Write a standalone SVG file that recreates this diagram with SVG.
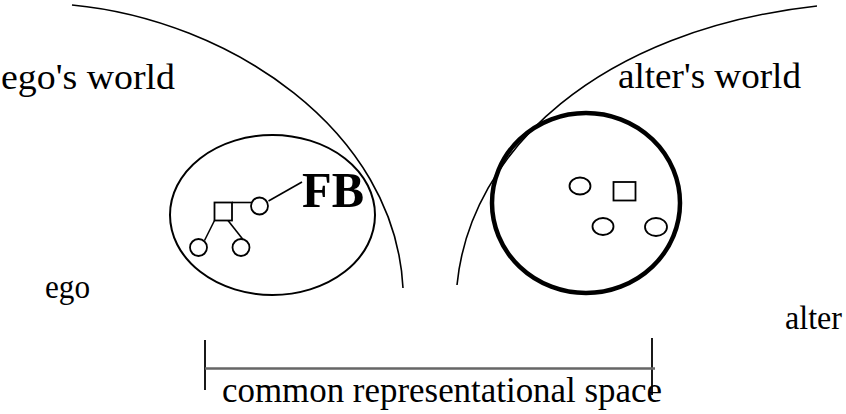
<svg xmlns="http://www.w3.org/2000/svg" width="846" height="414" viewBox="0 0 846 414">
<style>
.t{font-family:"Liberation Serif","Times New Roman",serif;font-size:36px;fill:#000}
.b{font-weight:bold;font-size:50px}
.ln{fill:none;stroke:#000;stroke-width:1.6}
.sm{fill:#fff;stroke:#000;stroke-width:1.8}
</style>
<rect width="846" height="414" fill="#fff"/>
<g id="worlds">
<path id="ego-world" class="ln" d="M72,5 C230,20 395,130 403,288"/>
<path id="alter-world" class="ln" d="M457,285 C470,150 600,30 817,6"/>
</g>
<g id="ego-node">
<ellipse cx="272.5" cy="215" rx="102.5" ry="80" fill="none" stroke="#000" stroke-width="2"/>
</g>
<g id="alter-node">
<ellipse cx="586" cy="203" rx="94" ry="90" fill="none" stroke="#000" stroke-width="4.5"/>
</g>
<g id="connectors">
<line class="ln" x1="232" y1="202.5" x2="251" y2="202.5"/>
<line class="ln" x1="268.5" y1="201" x2="302" y2="182"/>
<line class="ln" x1="214.5" y1="220.5" x2="204.5" y2="240.5"/>
<line class="ln" x1="228" y1="220.5" x2="243" y2="239.5"/>
</g>
<g id="ego-family">
<rect class="sm" x="214.5" y="202.5" width="17.5" height="18"/>
<circle class="sm" cx="259.5" cy="206" r="8.5"/>
<circle class="sm" cx="198.5" cy="247.5" r="8.5"/>
<circle class="sm" cx="241" cy="247.5" r="8.5"/>
</g>
<g id="alter-family">
<ellipse class="sm" cx="580" cy="186" rx="10.5" ry="8.5"/>
<rect class="sm" x="613.5" y="182" width="22" height="18.5"/>
<ellipse class="sm" cx="603" cy="226.5" rx="10.5" ry="8.5"/>
<ellipse class="sm" cx="656" cy="227" rx="11" ry="9"/>
</g>
<g id="fb">
<text class="t b" x="302" y="206.5" textLength="62" lengthAdjust="spacingAndGlyphs">FB</text>
</g>
<g id="labels">
<text class="t" x="1" y="89" textLength="174" lengthAdjust="spacingAndGlyphs">ego's world</text>
<text class="t" x="618" y="88" textLength="183" lengthAdjust="spacingAndGlyphs">alter's world</text>
<text class="t" x="45" y="298" style="font-size:34px" textLength="45" lengthAdjust="spacingAndGlyphs">ego</text>
<text class="t" x="785" y="329" style="font-size:34px" textLength="57" lengthAdjust="spacingAndGlyphs">alter</text>
</g>
<g id="common-space">
<line x1="205" y1="340" x2="205" y2="390" stroke="#000" stroke-width="1.8"/>
<line x1="652" y1="338" x2="652" y2="395" stroke="#000" stroke-width="1.8"/>
<line x1="205" y1="368.5" x2="655" y2="368.5" stroke="#666" stroke-width="2.5"/>
<text class="t" x="222" y="402" textLength="440" lengthAdjust="spacingAndGlyphs">common representational space</text>
</g>
</svg>
